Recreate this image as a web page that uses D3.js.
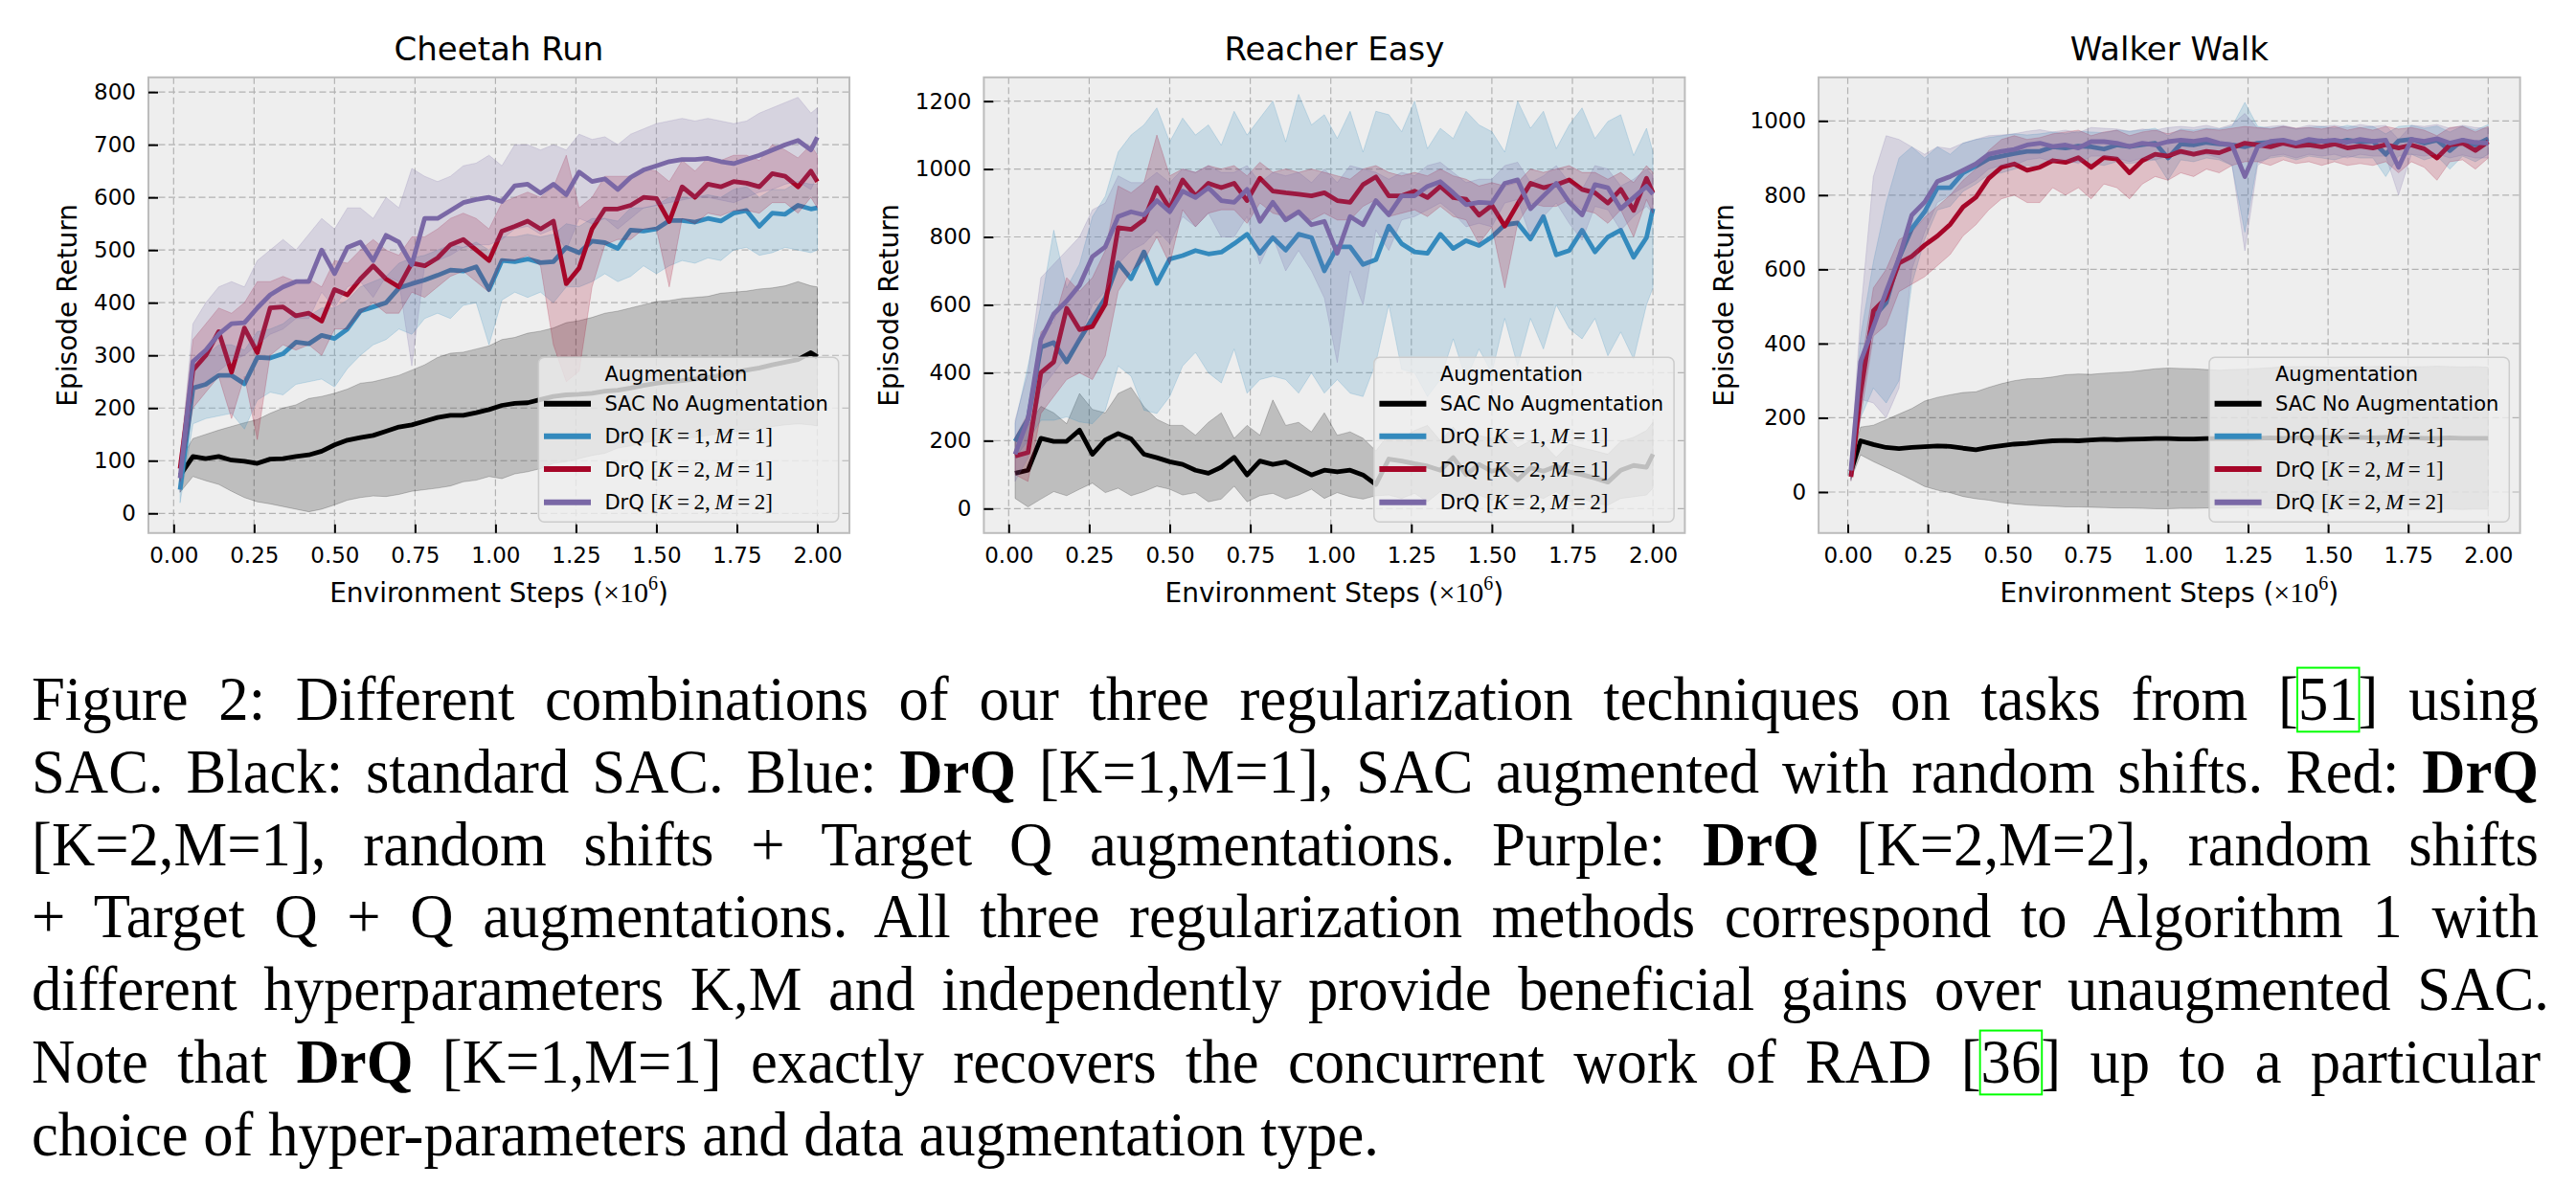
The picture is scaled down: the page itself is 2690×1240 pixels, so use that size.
<!DOCTYPE html>
<html><head><meta charset="utf-8">
<script src="https://cdn.jsdelivr.net/npm/d3@7"></script>
<style>body{margin:0;background:#fff} svg{display:block}</style>
</head><body><svg id="fig" width="2690" height="1240"></svg>
<script>
// ---------------- DATA ----------------
const steps = [0.02,0.06,0.10,0.14,0.18,0.22,0.26,0.30,0.34,0.38,0.42,0.46,0.50,0.54,0.58,0.62,0.66,0.70,0.74,0.78,0.82,0.86,0.90,0.94,0.98,1.02,1.06,1.10,1.14,1.18,1.22,1.26,1.30,1.34,1.38,1.42,1.46,1.50,1.54,1.58,1.62,1.66,1.70,1.74,1.78,1.82,1.86,1.90,1.94,1.98,2.00];
const walkerSteps = [0.01,0.04,0.08,0.12,0.16,0.20,0.24,0.28,0.32,0.36,0.40,0.44,0.48,0.52,0.56,0.60,0.64,0.68,0.72,0.76,0.80,0.84,0.88,0.92,0.96,1.00,1.04,1.08,1.12,1.16,1.20,1.24,1.28,1.32,1.36,1.40,1.44,1.48,1.52,1.56,1.60,1.64,1.68,1.72,1.76,1.80,1.84,1.88,1.92,1.96,2.00];

const xTicks = [0,0.25,0.5,0.75,1.0,1.25,1.5,1.75,2.0];
const cheetahTicks = [0,100,200,300,400,500,600,700,800];
const reacherTicks = [0,200,400,600,800,1000,1200];
const walkerTicks = [0,200,400,600,800,1000];

const panelTitles = ["Cheetah Run","Reacher Easy","Walker Walk"];
const seriesNames = ["SAC No Augmentation","DrQ","DrQ","DrQ"];
const legendK = [null,1,2,2];
const legendM = [null,1,1,2];
const seriesColors = ["#000000","#348ABD","#A60628","#7A68A6"];

// Cheetah Run
const cheetahSAC   = [72,108,104,108,101,99,95,103,104,108,111,118,130,139,144,148,156,164,168,175,182,186,186,191,197,205,209,210,216,222,225,226,228,232,234,238,243,247,250,252,255,258,262,268,272,276,282,287,292,305,297];
const cheetahSACLo = [40,70,62,55,42,30,22,18,13,8,3,8,16,25,30,33,32,36,42,45,48,52,60,63,70,66,75,79,85,95,98,104,110,114,124,128,134,138,140,143,144,148,152,155,158,160,165,168,170,168,166];
const cheetahSACHi = [100,142,150,158,165,172,178,190,200,206,218,222,228,236,247,250,256,262,272,282,296,304,306,312,318,330,334,342,346,352,362,366,372,380,384,390,396,402,404,408,410,412,418,420,422,426,428,432,440,432,430];
const cheetahK1M1   = [45,238,245,262,262,246,296,295,303,325,322,338,332,350,384,392,400,428,436,443,452,462,460,468,425,480,478,483,476,478,505,495,517,514,503,538,536,540,556,556,553,560,555,570,575,545,570,568,585,578,580];
const cheetahK1M1Lo = [20,170,180,185,190,160,215,230,225,245,250,255,240,275,300,320,330,350,340,370,380,370,395,400,320,405,420,410,420,400,430,430,440,455,440,450,470,455,470,480,475,485,480,500,505,490,495,505,500,495,500];
const cheetahK1M1Hi = [70,280,300,320,320,310,345,350,360,380,375,390,390,405,430,440,450,475,485,490,500,510,505,515,500,525,525,530,525,530,550,545,560,560,555,580,580,585,600,600,600,605,600,615,620,600,615,615,630,625,625];
const cheetahK2M1   = [85,272,300,345,268,352,305,390,392,375,380,365,425,415,445,470,445,430,475,470,485,510,520,500,480,536,545,555,540,555,436,466,540,578,578,585,600,598,554,620,600,625,620,630,627,620,645,640,620,650,630];
const cheetahK2M1Lo = [60,200,230,260,180,260,140,300,320,310,320,300,350,350,380,400,380,380,420,410,430,450,460,440,420,480,480,490,470,320,250,270,430,510,520,520,540,540,430,560,550,570,565,575,575,570,590,590,570,600,580];
const cheetahK2M1Hi = [110,330,360,390,380,400,440,440,450,440,445,430,480,475,500,520,500,490,525,525,540,560,570,560,540,590,600,610,600,620,680,580,600,640,640,640,655,650,630,670,650,675,670,680,680,670,700,690,675,700,680];
const cheetahK2M2   = [67,288,310,340,360,362,390,415,430,440,440,500,455,505,515,480,528,515,472,560,560,575,590,596,600,592,622,625,608,625,605,648,630,635,615,638,652,660,668,672,672,674,668,664,672,680,690,700,708,690,714];
const cheetahK2M2Lo = [40,230,250,270,290,300,320,340,350,370,370,420,390,430,440,410,450,440,280,470,480,490,505,510,510,520,540,545,530,540,500,560,550,560,540,560,580,585,590,595,600,600,595,590,600,610,615,625,630,615,640];
const cheetahK2M2Hi = [95,360,400,430,440,430,480,500,520,500,530,560,540,580,580,560,600,580,655,640,630,640,660,665,680,660,700,700,690,700,690,720,710,715,700,720,730,740,745,750,745,750,745,740,745,760,770,780,790,760,770];

// Reacher Easy
const reacherSAC   = [104,113,207,198,198,231,160,202,221,205,160,150,138,130,113,104,122,151,99,140,130,137,118,99,113,108,113,99,71,146,140,132,125,113,150,100,130,110,120,85,120,110,125,108,100,90,78,113,127,122,160];
const reacherSACLo = [30,5,28,50,38,57,75,47,60,38,50,66,57,40,47,20,28,66,20,38,45,28,40,57,30,47,35,28,38,40,30,45,20,50,35,10,40,25,45,10,40,30,50,20,30,15,10,30,35,40,60];
const reacherSACHi = [200,245,301,282,250,339,292,282,339,357,300,263,245,245,216,254,282,207,245,216,320,245,254,226,282,216,226,207,170,220,207,230,245,200,240,188,215,207,220,179,200,190,151,190,179,170,160,198,210,230,254];
const reacherK1M1   = [198,263,475,489,432,498,560,620,724,677,756,663,735,745,760,750,755,780,808,752,798,761,808,798,700,771,771,719,733,832,780,756,752,808,766,789,775,800,836,841,794,860,747,760,820,756,800,820,740,798,883];
const reacherK1M1Lo = [150,200,260,260,270,255,250,290,420,390,290,280,330,420,460,400,370,470,340,380,390,380,340,400,340,380,340,330,430,600,410,400,330,380,500,380,470,400,560,420,560,470,600,530,500,560,450,520,440,600,650];
const reacherK1M1Hi = [250,420,600,820,650,720,860,920,1050,1100,1130,1180,1080,1150,1100,1130,1070,1170,1100,1150,1200,1080,1220,1130,1160,1090,1170,1050,1170,1160,1110,1200,1060,1120,1090,1170,1130,1110,1050,1200,1120,1170,1060,1130,1180,1090,1140,1160,1040,1120,1050];
const reacherK2M1   = [155,165,400,432,590,527,536,602,827,822,850,945,883,968,921,958,945,958,907,973,935,930,926,921,930,907,902,954,977,921,921,935,916,949,916,911,864,893,832,897,958,945,954,968,940,930,900,940,878,973,930];
const reacherK2M1Lo = [100,80,280,330,380,400,380,450,640,700,730,800,720,880,830,870,880,880,840,900,870,860,870,850,870,850,850,890,910,860,870,880,860,890,860,850,780,830,650,840,900,890,890,910,880,870,840,880,800,910,870];
const reacherK2M1Hi = [210,280,520,550,680,640,680,760,950,930,960,1100,980,1000,990,1010,1000,1010,980,1020,990,1000,990,1000,990,980,970,1000,1010,990,980,990,980,1000,980,970,950,960,950,960,1000,990,1000,1010,990,990,970,990,960,1010,990];
const reacherK2M2   = [160,263,498,573,611,658,742,771,860,874,865,907,874,935,916,945,907,902,940,846,902,850,874,836,846,752,860,836,907,865,921,921,949,963,930,895,902,900,958,968,883,921,958,902,865,954,945,883,916,949,926];
const reacherK2M2Lo = [80,150,350,400,450,500,600,640,720,760,780,820,780,860,830,870,800,800,860,720,800,700,760,700,620,430,700,600,820,760,850,860,880,900,870,830,840,830,900,910,800,860,900,840,790,890,880,820,860,890,870];
const reacherK2M2Hi = [260,400,680,720,760,800,880,900,980,960,960,990,960,1000,990,1010,990,990,1010,960,990,980,990,960,1000,960,1010,1000,990,970,990,980,1010,1020,990,960,970,970,1010,1020,960,980,1010,960,940,1010,1000,950,970,1000,980];

// Walker Walk
const walkerSAC   = [55,138,128,120,117,120,122,124,123,118,114,120,125,129,131,135,138,139,138,140,142,141,142,143,144,144,143,143,144,144,145,144,145,146,145,146,146,147,146,147,147,146,147,146,146,145,145,146,145,145,145];
const walkerSACLo = [35,100,82,66,50,33,15,5,-2,-12,-18,-22,-28,-32,-35,-37,-38,-40,-40,-41,-42,-43,-43,-44,-45,-45,-44,-44,-43,-44,-43,-42,-43,-44,-44,-45,-44,-46,-45,-45,-46,-46,-47,-46,-47,-46,-45,-46,-47,-46,-46];
const walkerSACHi = [75,175,180,195,210,225,245,255,262,268,270,282,292,300,305,306,310,316,318,317,320,322,324,328,332,334,333,332,330,328,330,331,333,335,337,338,338,337,336,337,338,338,339,338,337,338,339,338,337,338,336];
const walkerK1M1   = [45,308,470,510,630,710,755,820,820,860,878,898,905,912,918,918,930,927,932,930,924,935,931,936,940,900,938,935,942,938,935,930,940,942,945,938,944,946,940,948,943,945,910,946,950,940,948,920,948,935,952];
const walkerK1M1Lo = [30,200,280,240,300,560,680,760,770,810,830,855,860,870,880,875,890,885,890,885,880,890,885,890,895,840,895,890,900,895,880,700,890,900,905,895,905,900,895,905,900,900,850,905,910,895,905,870,905,890,910];
const walkerK1M1Hi = [60,420,620,780,900,930,900,930,910,940,950,955,960,965,962,965,970,965,972,970,968,975,972,975,980,960,978,975,980,978,985,1050,985,980,985,978,982,985,980,988,982,985,965,985,988,980,986,970,986,975,990];
const walkerK2M1   = [41,265,488,523,617,635,665,690,721,768,794,845,875,884,867,875,893,888,901,875,901,897,860,893,910,905,918,910,918,914,927,940,935,930,940,932,935,930,938,927,932,927,936,927,935,925,900,935,940,920,944];
const walkerK2M1Lo = [30,200,420,450,540,560,580,610,640,690,720,760,790,800,780,780,820,800,820,790,830,820,790,830,850,840,860,850,870,860,880,890,890,880,895,885,890,880,890,880,885,880,890,860,890,875,840,890,895,870,900];
const walkerK2M1Hi = [55,330,550,600,680,700,740,770,800,840,870,920,950,960,950,955,965,970,975,960,970,975,960,970,975,965,975,970,978,975,980,985,982,978,985,980,982,978,985,975,982,975,985,978,982,975,960,982,985,970,985];
const walkerK2M2   = [58,351,445,540,630,746,781,837,850,867,884,910,918,923,935,940,931,935,927,944,944,940,931,940,935,944,948,945,950,940,935,850,930,945,948,940,950,945,948,942,950,945,948,875,950,945,952,940,948,942,940];
const walkerK2M2Lo = [40,250,240,200,280,600,700,780,800,820,840,870,880,880,895,900,890,895,885,905,905,900,890,900,895,905,910,905,910,900,880,650,880,905,910,900,910,905,910,900,910,905,905,800,910,905,912,900,908,900,900];
const walkerK2M2Hi = [80,480,850,960,950,930,910,930,925,940,950,960,962,965,972,976,970,975,968,982,980,978,972,978,975,982,985,982,988,980,990,1020,980,985,988,980,988,985,988,982,990,985,988,950,988,985,990,980,988,982,980];

const captionLines = [
  [["Figure 2: Different combinations of our three regularization techniques on tasks from [",0],["51",2],["] using",0]],
  [["SAC. Black: standard SAC. Blue: ",0],["DrQ",1],[" [K=1,M=1], SAC augmented with random shifts. Red: ",0],["DrQ",1]],
  [["[K=2,M=1], random shifts + Target Q augmentations. Purple: ",0],["DrQ",1],[" [K=2,M=2], random shifts",0]],
  [["+ Target Q + Q augmentations. All three regularization methods correspond to Algorithm 1 with",0]],
  [["different hyperparameters K,M and independently provide beneficial gains over unaugmented SAC.",0]],
  [["Note that ",0],["DrQ",1],[" [K=1,M=1] exactly recovers the concurrent work of RAD [",0],["36",2],["] up to a particular",0]],
  [["choice of hyper-parameters and data augmentation type.",0]]
];

// ---------------- LAYOUT ----------------
const TOP = 80.8, BOTTOM = 556.8;
const panels = [
  {title:panelTitles[0], steps:steps, left:155, right:887, xdom:[-0.0783,2.0997], ydom:[-37.3,827.9], yticks:cheetahTicks, ylabOff:74.8,
   series:[[cheetahSAC,cheetahSACLo,cheetahSACHi],[cheetahK1M1,cheetahK1M1Lo,cheetahK1M1Hi],[cheetahK2M1,cheetahK2M1Lo,cheetahK2M1Hi],[cheetahK2M2,cheetahK2M2Lo,cheetahK2M2Hi]]},
  {title:panelTitles[1], steps:steps, left:1027.4, right:1759.4, xdom:[-0.077,2.099], ydom:[-71.9,1270], yticks:reacherTicks, ylabOff:89.4,
   series:[[reacherSAC,reacherSACLo,reacherSACHi],[reacherK1M1,reacherK1M1Lo,reacherK1M1Hi],[reacherK2M1,reacherK2M1Lo,reacherK2M1Hi],[reacherK2M2,reacherK2M2Lo,reacherK2M2Hi]]},
  {title:panelTitles[2], steps:walkerSteps, left:1899.1, right:2631.6, xdom:[-0.091,2.0995], ydom:[-110.4,1117.3], yticks:walkerTicks, ylabOff:89.5,
   series:[[walkerSAC,walkerSACLo,walkerSACHi],[walkerK1M1,walkerK1M1Lo,walkerK1M1Hi],[walkerK2M1,walkerK2M1Lo,walkerK2M1Hi],[walkerK2M2,walkerK2M2Lo,walkerK2M2Hi]]}
];

const SANS = "DejaVu Sans";
const SERIF = "Liberation Serif";
const svg = d3.select("#fig");
svg.append("rect").attr("width",2690).attr("height",1240).attr("fill","#ffffff");
const defs = svg.append("defs");

panels.forEach((p, pi) => {
  const x = d3.scaleLinear().domain(p.xdom).range([p.left, p.right]);
  const y = d3.scaleLinear().domain(p.ydom).range([BOTTOM, TOP]);
  const g = svg.append("g");
  g.append("rect").attr("x",p.left).attr("y",TOP).attr("width",p.right-p.left).attr("height",BOTTOM-TOP).attr("fill","#eeeeee");

  g.append("g").selectAll("line").data(xTicks).join("line")
    .attr("x1",d=>x(d)).attr("x2",d=>x(d)).attr("y1",TOP).attr("y2",BOTTOM)
    .attr("stroke","#b2b2b2").attr("stroke-width",1.2).attr("stroke-dasharray","7,3.5");
  g.append("g").selectAll("line").data(p.yticks).join("line")
    .attr("x1",p.left).attr("x2",p.right).attr("y1",d=>y(d)).attr("y2",d=>y(d))
    .attr("stroke","#b2b2b2").attr("stroke-width",1.2).attr("stroke-dasharray","7,3.5");

  defs.append("clipPath").attr("id","clip"+pi).append("rect")
    .attr("x",p.left).attr("y",TOP).attr("width",p.right-p.left).attr("height",BOTTOM-TOP);
  const pg = g.append("g").attr("clip-path",`url(#clip${pi})`);

  p.series.forEach((s, si) => {
    const n = Math.min(p.steps.length, s[0].length, s[1].length, s[2].length);
    const pts = d3.range(n).map(i => ({x:p.steps[i], m:s[0][i], lo:s[1][i], hi:s[2][i]}));
    const area = d3.area().x(d=>x(d.x)).y0(d=>y(d.lo)).y1(d=>y(d.hi));
    pg.append("path").attr("d",area(pts)).attr("fill",seriesColors[si]).attr("fill-opacity",0.2)
      .attr("stroke",seriesColors[si]).attr("stroke-opacity",0.2).attr("stroke-width",1);
    const line = d3.line().x(d=>x(d.x)).y(d=>y(d.m));
    pg.append("path").attr("d",line(pts)).attr("fill","none").attr("stroke",seriesColors[si])
      .attr("stroke-width",4.8).attr("stroke-linejoin","round");
  });

  g.append("rect").attr("x",p.left).attr("y",TOP).attr("width",p.right-p.left).attr("height",BOTTOM-TOP)
    .attr("fill","none").attr("stroke","#bcbcbc").attr("stroke-width",2);

  const xa = g.append("g").attr("transform",`translate(0,${BOTTOM})`)
    .call(d3.axisBottom(x).tickValues(xTicks).tickFormat(d3.format(".2f")).tickSizeInner(-9).tickSizeOuter(0).tickPadding(14.5));
  xa.select(".domain").remove();
  xa.selectAll("line").attr("stroke","#000").attr("stroke-width",2);
  xa.selectAll("text").attr("font-family",SANS).attr("font-size",23).attr("fill","#000");
  const ya = g.append("g").attr("transform",`translate(${p.left},0)`)
    .call(d3.axisLeft(y).tickValues(p.yticks).tickFormat(d3.format("d")).tickSizeInner(-10).tickSizeOuter(0).tickPadding(13));
  ya.select(".domain").remove();
  ya.selectAll("line").attr("stroke","#000").attr("stroke-width",2);
  ya.selectAll("text").attr("font-family",SANS).attr("font-size",23).attr("fill","#000");

  const cx = (p.left + p.right)/2;
  g.append("text").attr("x",cx).attr("y",63).attr("text-anchor","middle")
    .attr("font-family",SANS).attr("font-size",34).attr("fill","#000").text(p.title);
  const xl = g.append("text").attr("x",cx).attr("y",629).attr("text-anchor","middle")
    .attr("font-family",SANS).attr("font-size",28).attr("fill","#000");
  xl.append("tspan").text("Environment Steps (");
  xl.append("tspan").attr("font-family",SERIF).attr("font-size",30).text("\u00d710");
  xl.append("tspan").attr("font-family",SERIF).attr("font-size",20).attr("dy",-13).text("6");
  xl.append("tspan").attr("dy",13).text(")");
  g.append("text").attr("transform",`translate(${p.left - p.ylabOff},${(TOP+BOTTOM)/2}) rotate(-90)`)
    .attr("text-anchor","middle").attr("font-family",SANS).attr("font-size",28).attr("fill","#000").text("Episode Return");

  const W = 313.3, H = 172;
  const lg = g.append("g").attr("transform",`translate(${p.right - 11.3 - W},${BOTTOM - 11.5 - H})`);
  lg.append("rect").attr("width",W).attr("height",H).attr("rx",6).attr("ry",6)
    .attr("fill","#eeeeee").attr("fill-opacity",0.8).attr("stroke","#cccccc").attr("stroke-width",1.5);
  lg.append("text").attr("x",69).attr("y",24.8).attr("font-family",SANS).attr("font-size",21).attr("fill","#000").text("Augmentation");
  const rowY = [48.4, 82.4, 116.7, 151.4];
  seriesNames.forEach((nm, si) => {
    lg.append("line").attr("x1",5.6).attr("x2",54.6).attr("y1",rowY[si]).attr("y2",rowY[si])
      .attr("stroke",seriesColors[si]).attr("stroke-width",6);
    const t = lg.append("text").attr("x",69).attr("y",rowY[si]+7.7).attr("font-family",SANS).attr("font-size",21).attr("fill","#000");
    if (legendK[si] === null) { t.text(nm); }
    else {
      t.append("tspan").text(nm + " ");
      t.append("tspan").attr("font-family",SERIF).attr("font-size",23).text("[");
      t.append("tspan").attr("font-family",SERIF).attr("font-size",23).attr("font-style","italic").text("K");
      t.append("tspan").attr("font-family",SERIF).attr("font-size",23).text("\u2009=\u2009" + legendK[si] + ",\u2009");
      t.append("tspan").attr("font-family",SERIF).attr("font-size",23).attr("font-style","italic").text("M");
      t.append("tspan").attr("font-family",SERIF).attr("font-size",23).text("\u2009=\u2009" + legendM[si] + "]");
    }
  });
});

// ---------------- CAPTION (slightly condensed serif, justified via word spacing) ----------------
const capX = 33, capBase = 752, capStep = 75.8, capSize = 66, capScale = 0.95;
const capRight = [2651, 2651, 2651, 2651, 2662, 2653, null];
const capG = svg.append("g").attr("transform",`translate(${capX},0) scale(${capScale},1)`);
captionLines.forEach((segs, li) => {
  const t = capG.append("text").attr("x",0).attr("y",capBase + li*capStep)
    .attr("font-family",SERIF).attr("font-size",capSize).attr("fill","#000").style("white-space","pre");
  let idx = 0; const cites = []; let full = "";
  segs.forEach(([txt, sty]) => {
    const ts = t.append("tspan").text(txt);
    if (sty === 1) ts.attr("font-weight","bold");
    if (sty === 2) cites.push([idx, txt.length]);
    idx += txt.length; full += txt;
  });
  const node = t.node();
  if (capRight[li]) {
    const target = (capRight[li] - capX) / capScale;
    const natural = node.getComputedTextLength();
    const nSpaces = (full.match(/ /g) || []).length;
    const ws = (target - natural) / nSpaces;
    if (ws >= -6) t.attr("word-spacing", ws);
    else t.attr("textLength", target).attr("lengthAdjust","spacingAndGlyphs");
  }
  cites.forEach(([start, len]) => {
    try {
      const a = node.getExtentOfChar(start), b = node.getExtentOfChar(start+len-1);
      const x0 = a.x - 1, x1 = b.x + b.width + 1;
      const y0 = Math.min(a.y, b.y) + 4, y1 = Math.max(a.y + a.height, b.y + b.height) - 2;
      capG.append("rect").attr("x",x0).attr("y",y0).attr("width",x1-x0).attr("height",y1-y0)
        .attr("fill","none").attr("stroke","#00ff00").attr("stroke-width",2);
    } catch(e) {}
  });
});
</script>
</body></html>
